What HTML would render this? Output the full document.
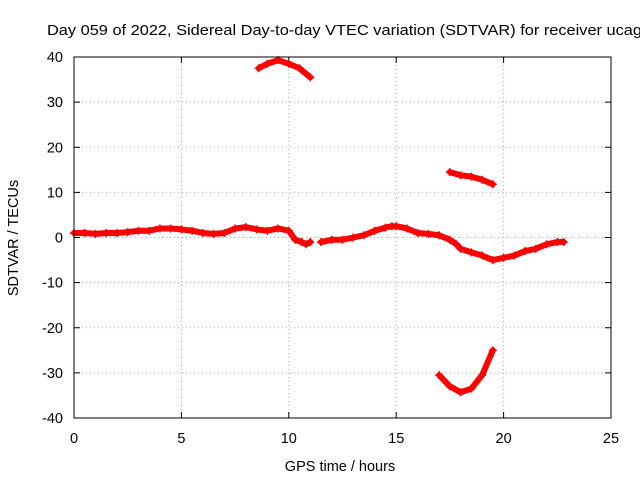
<!DOCTYPE html>
<html><head><meta charset="utf-8"><style>
body{margin:0;background:#fff}
svg text{font-family:"Liberation Sans",sans-serif;font-size:14.5px;fill:#000}
</style></head><body>
<svg id="c" width="640" height="480">
<rect width="640" height="480" fill="#fff"/>
<text x="47" y="35" text-anchor="start" style="font-size:15px" textLength="595" lengthAdjust="spacingAndGlyphs">Day 059 of 2022, Sidereal Day-to-day VTEC variation (SDTVAR) for receiver ucag</text>
<text x="340" y="471" text-anchor="middle">GPS time / hours</text>
<text transform="translate(18,238) rotate(-90)" text-anchor="middle">SDTVAR / TECUs</text>
<g id="grid"></g><g id="ticks"></g><g id="marks"></g>
<rect x="74" y="57" width="537" height="361" fill="none" stroke="#000"/>
</svg>
<script>
const xTicks=[0,5,10,15,20,25];
const yTicks=[-40,-30,-20,-10,0,10,20,30,40];
const seg1X=[0,0.5,1,1.5,2,2.5,3,3.5,4,4.5,5,5.5,6,6.5,7,7.5,8,8.5,9,9.5,10,10.3,10.6,10.8,11];
const seg1Y=[1,1,0.8,1,1,1.2,1.5,1.5,2,2,1.8,1.5,1,0.8,1,2,2.3,1.8,1.5,2,1.5,-0.5,-1,-1.5,-1];
const seg2X=[11.5,12,12.5,13,13.5,14,14.5,14.8,15,15.5,16,16.5,17,17.5,17.8,18,18.5,19,19.5,20,20.5,21,21.5,22,22.5,22.8];
const seg2Y=[-1,-0.5,-0.5,0,0.5,1.5,2.2,2.5,2.5,2,1,0.8,0.5,-0.5,-1.5,-2.5,-3.3,-4,-5,-4.5,-4,-3,-2.5,-1.5,-1,-1];
const arcTopX=[8.6,9,9.5,10,10.5,11];
const arcTopY=[37.5,38.5,39.3,38.5,37.5,35.5];
const midX=[17.5,18,18.5,19,19.5];
const midY=[14.5,13.8,13.5,12.8,11.8];
const arcLowX=[17,17.5,18,18.5,19,19.5];
const arcLowY=[-30.5,-33,-34.3,-33.5,-30.5,-25];
const NS="http://www.w3.org/2000/svg";
const sx=v=>74+v*(537/25);
const sy=v=>237.5-v*(361/80);
function mk(tag,attrs,parent){const e=document.createElementNS(NS,tag);for(const k in attrs)e.setAttribute(k,attrs[k]);parent.appendChild(e);return e;}
const grid=document.getElementById('grid'),ticks=document.getElementById('ticks'),marks=document.getElementById('marks');
xTicks.forEach(t=>{const x=sx(t);
 if(t>0&&t<25){const g=mk('line',{x1:x,x2:x,y1:57,y2:418,stroke:'#aaa','stroke-dasharray':'1,3'},grid);
 
 }
 const l=mk('text',{x:x,y:443,'text-anchor':'middle'},ticks);l.textContent=t;
 
 
 mk('line',{x1:x,x2:x,y1:418,y2:412,stroke:'#000'},ticks);mk('line',{x1:x,x2:x,y1:57,y2:63,stroke:'#000'},ticks);});
yTicks.forEach(t=>{const y=sy(t);
 if(t>-40&&t<40){const g=mk('line',{x1:74,x2:611,y1:y,y2:y,stroke:'#aaa','stroke-dasharray':'1,3'},grid);
 
 }
 const l=mk('text',{x:63,y:y+5,'text-anchor':'end'},ticks);l.textContent=t;
 
 
 mk('line',{x1:74,x2:80,y1:y,y2:y,stroke:'#000'},ticks);mk('line',{x1:611,x2:605,y1:y,y2:y,stroke:'#000'},ticks);});
function series(xs,ys,name){
 const g=mk('g',{},marks);
 
 
 mk('polyline',{points:xs.map((x,i)=>sx(x)+','+sy(ys[i])).join(' '),fill:'none',stroke:'#f00','stroke-width':6,'stroke-linejoin':'round','stroke-linecap':'round'},g);
 for(let i=0;i<xs.length;i++){const x=sx(xs[i]),y=sy(ys[i]);
  mk('path',{d:`M${x-4},${y}h8M${x},${y-4}v8`,stroke:'#f00','stroke-width':1.5},g);}
}
series(seg1X,seg1Y,'series-morning');
series(seg2X,seg2Y,'series-afternoon');
series(arcTopX,arcTopY,'series-top-arc');
series(midX,midY,'series-mid');
series(arcLowX,arcLowY,'series-low-arc');
</script>
</body></html>
